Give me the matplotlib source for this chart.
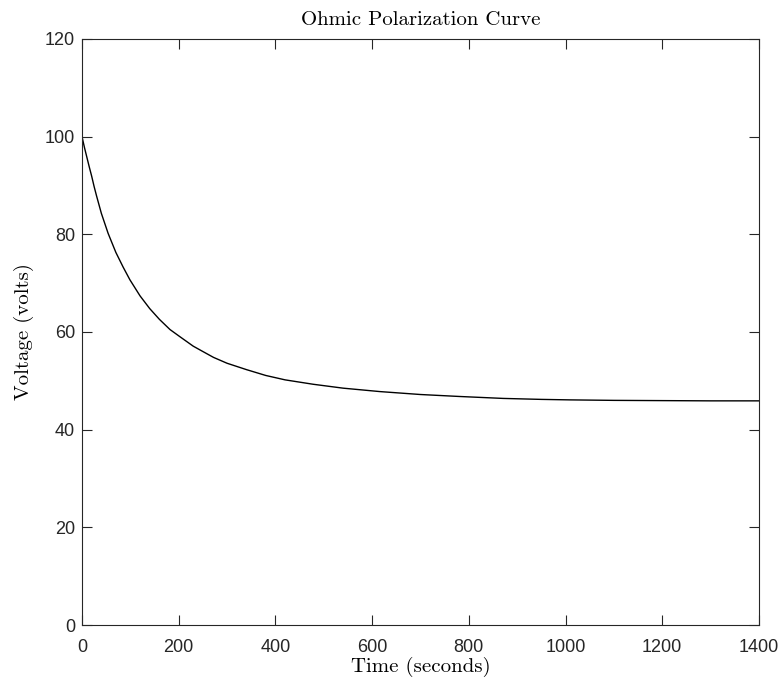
import matplotlib
matplotlib.use('Agg')
import matplotlib.pyplot as plt
import numpy as np

# values
time_s = [0, 5, 10, 15, 20, 25, 30, 40, 54, 70, 85, 99, 120, 140, 160, 182,
          203, 230, 250, 272, 300, 340, 380, 420, 478, 540, 616, 700, 780,
          871, 950, 1009, 1100, 1200, 1300, 1400]
voltage = [100, 97.8, 95.8, 93.8, 91.9, 89.8, 87.9, 84.3, 80.2, 76.3, 73.3,
           70.7, 67.4, 64.8, 62.6, 60.5, 59.0, 57.1, 56.0, 54.8, 53.6, 52.3,
           51.1, 50.2, 49.3, 48.5, 47.8, 47.2, 46.8, 46.4, 46.2, 46.1, 46.0,
           45.95, 45.9, 45.9]

x_ticks = [0, 200, 400, 600, 800, 1000, 1200, 1400]
y_ticks = [0, 20, 40, 60, 80, 100, 120]

spine_col = '#262626'
tick_font = 'Liberation Sans'
label_font = 'cmr10'


def main():
    fig = plt.figure(figsize=(7.84, 6.79), dpi=100)
    ax = fig.add_axes([0.1046, 0.0795, 0.8634, 0.8631])

    ax.plot(time_s, voltage, color='black', linewidth=1.0)

    ax.set_xlim(0, 1400)
    ax.set_ylim(0, 120)
    ax.set_xticks(x_ticks)
    ax.set_yticks(y_ticks)

    # MATLAB-like box with inward ticks on every side
    for sp in ax.spines.values():
        sp.set_color(spine_col)
        sp.set_linewidth(0.8)
    ax.tick_params(direction='in', length=7, width=0.8, color=spine_col,
                   top=True, right=True, labelsize=13, labelcolor=spine_col)
    ax.tick_params(axis='x', pad=10)
    ax.tick_params(axis='y', pad=5)
    for lab in ax.get_xticklabels() + ax.get_yticklabels():
        lab.set_fontfamily(tick_font)

    ax.set_title('Ohmic Polarization Curve', fontfamily=label_font,
                 fontsize=15, pad=10)
    ax.set_xlabel('Time (seconds)', fontfamily=label_font, fontsize=15,
                  labelpad=0.5)
    ax.set_ylabel('Voltage (volts)', fontfamily=label_font, fontsize=15,
                  labelpad=8)

    fig.savefig('out.png', dpi=100)


if __name__ == '__main__':
    main()
